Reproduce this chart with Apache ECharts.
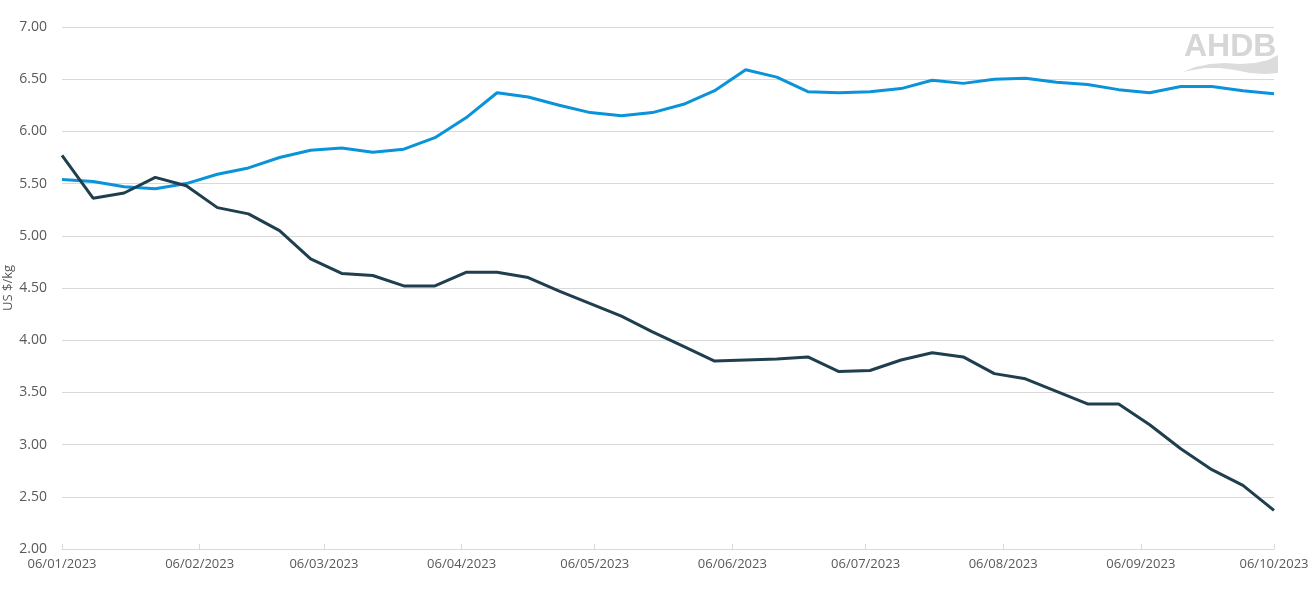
<!DOCTYPE html>
<html>
<head>
<meta charset="utf-8">
<script src="https://cdn.jsdelivr.net/npm/echarts@6/dist/echarts.min.js"></script>
<style>
html,body{margin:0;padding:0;background:#fff;}
#chart{width:1314px;height:589px;}
</style>
</head>
<body>
<div id="chart"></div>
<script>
// Weekly observation dates
const dates = [
  '2023-01-06','2023-01-13','2023-01-20','2023-01-27',
  '2023-02-03','2023-02-10','2023-02-17','2023-02-24',
  '2023-03-03','2023-03-10','2023-03-17','2023-03-24','2023-03-31',
  '2023-04-07','2023-04-14','2023-04-21','2023-04-28',
  '2023-05-05','2023-05-12','2023-05-19','2023-05-26',
  '2023-06-02','2023-06-09','2023-06-16','2023-06-23','2023-06-30',
  '2023-07-07','2023-07-14','2023-07-21','2023-07-28',
  '2023-08-04','2023-08-11','2023-08-18','2023-08-25',
  '2023-09-01','2023-09-08','2023-09-15','2023-09-22','2023-09-29',
  '2023-10-06'
];
// Light blue series (US $/kg)
const seriesBlue = [
  5.54,5.52,5.47,5.45,5.50,5.59,5.65,5.75,5.82,5.84,
  5.80,5.83,5.94,6.13,6.37,6.33,6.25,6.18,6.15,6.18,
  6.26,6.39,6.59,6.52,6.38,6.37,6.38,6.41,6.49,6.46,
  6.50,6.51,6.47,6.45,6.40,6.37,6.43,6.43,6.39,6.36
];
// Dark series (US $/kg)
const seriesDark = [
  5.77,5.36,5.41,5.56,5.48,5.27,5.21,5.05,4.78,4.64,
  4.62,4.52,4.52,4.65,4.65,4.60,4.47,4.35,4.23,4.08,
  3.94,3.80,3.81,3.82,3.84,3.70,3.71,3.81,3.88,3.84,
  3.68,3.63,3.51,3.39,3.39,3.19,2.96,2.76,2.61,2.37
];
// X tick label dates
const tickDates = [
  '2023-01-06','2023-02-06','2023-03-06','2023-04-06','2023-05-06',
  '2023-06-06','2023-07-06','2023-08-06','2023-09-06','2023-10-06'
];
const yMin = 2, yMax = 7, yStep = 0.5;
const yAxisName = 'US $/kg';

function ts(s){ const p = s.split('-'); return Date.UTC(+p[0], +p[1]-1, +p[2]); }
function fmt(v){
  const d = new Date(v);
  const dd = String(d.getUTCDate()).padStart(2,'0');
  const mm = String(d.getUTCMonth()+1).padStart(2,'0');
  return dd + '/' + mm + '/' + d.getUTCFullYear();
}
const tickTs = tickDates.map(ts);

const chart = echarts.init(document.getElementById('chart'), null, {renderer:'canvas'});
const font = '"Open Sans", "Liberation Sans", sans-serif';
chart.setOption({
  animation: false,
  backgroundColor: '#ffffff',
  textStyle: { fontFamily: font },
  grid: { left: 62, right: 40, top: 27, bottom: 40, containLabel: false, outerBoundsMode: 'none' },
  xAxis: {
    type: 'value',
    min: ts(dates[0]),
    max: ts(dates[dates.length-1]),
    axisLine: { show: true, lineStyle: { color: '#d9d9d9', width: 1 } },
    axisTick: { show: true, inside: true, length: 5, customValues: tickTs, lineStyle: { color: '#d9d9d9' } },
    axisLabel: {
      customValues: tickTs,
      formatter: fmt,
      color: '#595959', fontSize: 13, fontFamily: font, margin: 9,
      showMinLabel: true, showMaxLabel: true, hideOverlap: false
    },
    splitLine: { show: false }
  },
  yAxis: {
    type: 'value',
    min: yMin, max: yMax, interval: yStep,
    axisLine: { show: false },
    axisTick: { show: false },
    axisLabel: { formatter: v => v.toFixed(2), color: '#595959', fontSize: 14, fontFamily: font, margin: 15 },
    splitLine: { lineStyle: { color: '#d9d9d9', width: 1 } }
  },
  graphic: [
    { type: 'text', x: 8, y: 288, rotation: Math.PI / 2, z: 5, style: { text: yAxisName, fill: '#595959', font: '13px "Open Sans", "Liberation Sans", sans-serif', align: 'center', verticalAlign: 'middle' } },
    { type: 'text', x: 1184, y: 31, z: 0, style: { text: 'AHDB', fill: '#d6d6d6', font: 'bold 32px "Liberation Sans", Arial, sans-serif', verticalAlign: 'top' } },
    { type: 'polygon', z: 0, shape: { points: [[1183,72],[1195,67],[1210,64],[1225,63],[1240,64],[1255,63],[1268,60],[1278,55],[1278,73],[1265,74],[1250,73],[1235,70],[1220,68],[1205,68],[1193,70]] }, style: { fill: '#dcdcdc' } }
  ],
  series: [
    {
      name: 'Blue', type: 'line', symbol: 'none', smooth: false,
      data: dates.map((d,i) => [ts(d), seriesBlue[i]]),
      lineStyle: { color: '#0a93d8', width: 3 }, itemStyle: { color: '#0a93d8' }, z: 3
    },
    {
      name: 'Dark', type: 'line', symbol: 'none', smooth: false,
      data: dates.map((d,i) => [ts(d), seriesDark[i]]),
      lineStyle: { color: '#1f3f4e', width: 3 }, itemStyle: { color: '#1f3f4e' }, z: 4
    }
  ]
});
</script>
</body>
</html>
